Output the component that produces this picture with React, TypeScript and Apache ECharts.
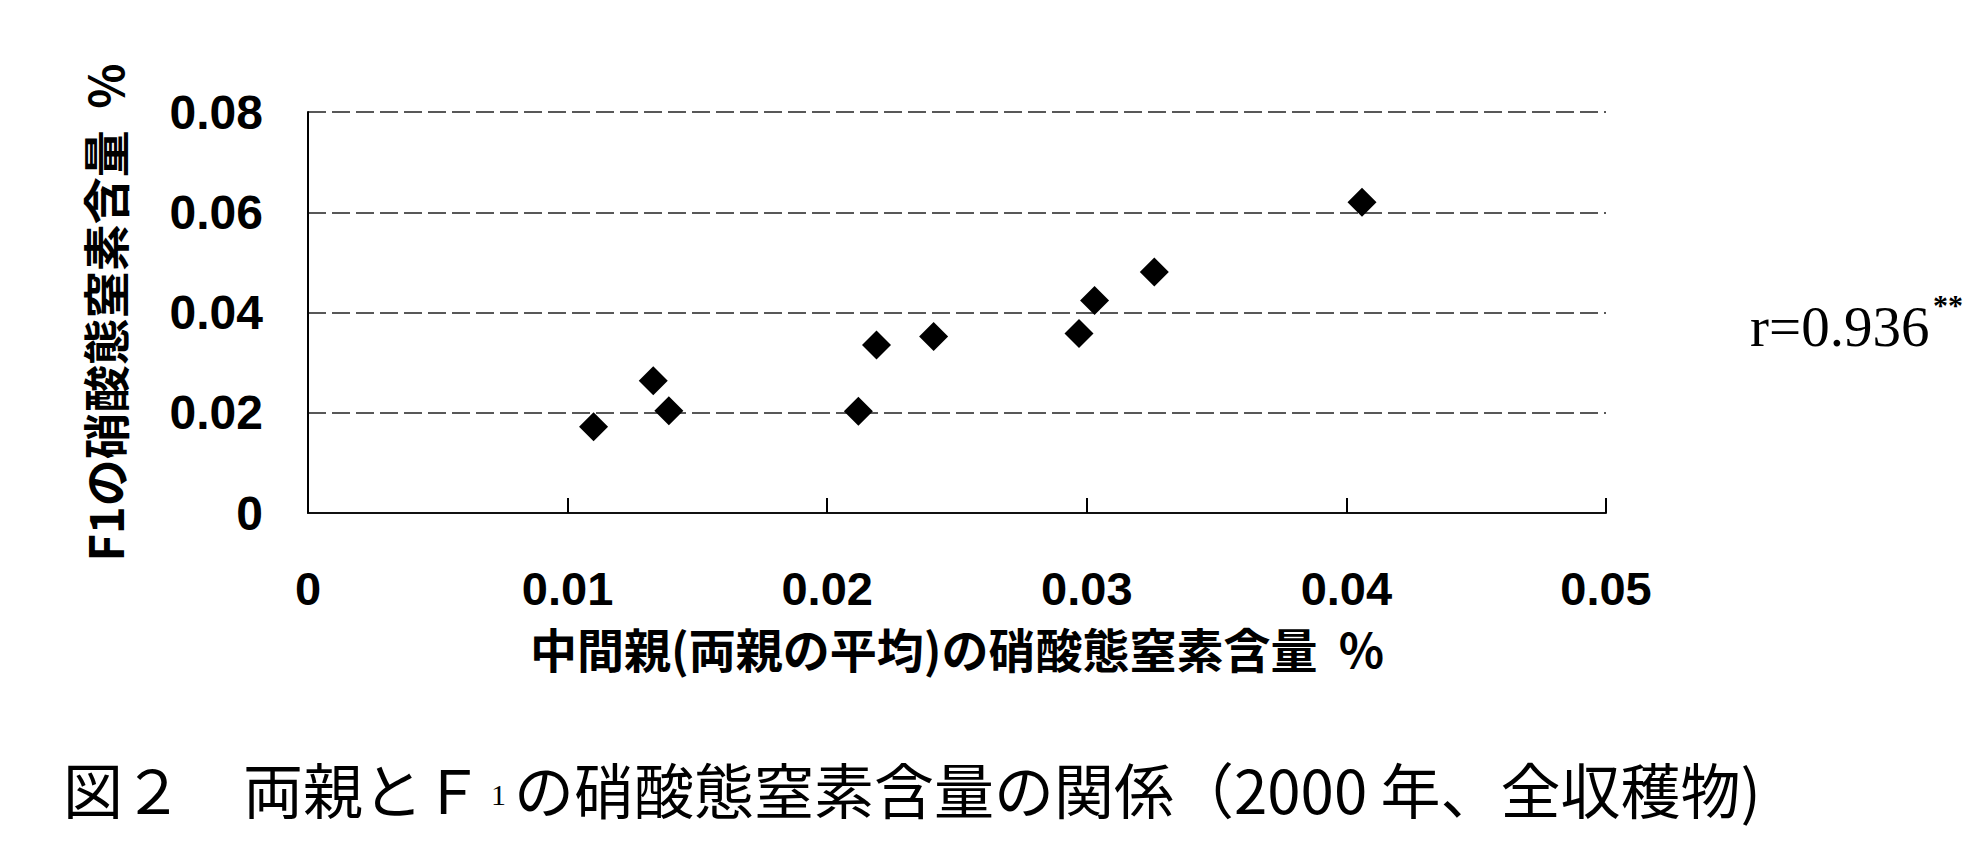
import React, { useEffect, useRef } from 'react';
import * as echarts from 'echarts';

// 中間親(両親の平均)の硝酸態窒素含量 % (x) と F1 の硝酸態窒素含量 % (y)
const midParentValues = [0.0110, 0.0133, 0.0139, 0.0212, 0.0219, 0.0241, 0.0297, 0.0303, 0.0326, 0.0406];
const f1Values = [0.0172, 0.0264, 0.0204, 0.0203, 0.0335, 0.0352, 0.0358, 0.0424, 0.0481, 0.0620];

const xTickLabels = ['0', '0.01', '0.02', '0.03', '0.04', '0.05'];
const yTickLabels = ['0', '0.02', '0.04', '0.06', '0.08'];
const xInterval = 0.01;
const yInterval = 0.02;

const xAxisTitle = '中間親(両親の平均)の硝酸態窒素含量  %';
const yAxisTitle = 'F1の硝酸態窒素含量  %';
const captionHead = '図２　両親とＦ';
const captionSub = '1';
const captionTail = 'の硝酸態窒素含量の関係（2000 年、全収穫物)';
const rText = 'r=0.936';
const rSup = '**';

const JP = '"Noto Sans CJK JP", "Noto Sans", sans-serif';
const NUM = '"Liberation Sans", Arial, sans-serif';
const SERIF = '"Liberation Serif", "Times New Roman", serif';

export default function App() {
  const ref = useRef<HTMLDivElement>(null);

  useEffect(() => {
    document.body.style.margin = '0';
    const chart = echarts.init(ref.current!, null, { renderer: 'svg' });
    const points = midParentValues.map((x, i) => [x, f1Values[i]]);

    chart.setOption({
      animation: false,
      backgroundColor: '#ffffff',
      grid: { left: 308, top: 112, width: 1298, height: 401, containLabel: false },
      xAxis: {
        type: 'value',
        min: 0,
        max: (xTickLabels.length - 1) * xInterval,
        interval: xInterval,
        name: xAxisTitle,
        nameLocation: 'middle',
        nameGap: 111,
        nameTextStyle: { fontFamily: JP, fontWeight: 'bold', fontSize: 47, color: '#000' },
        axisLine: { show: true, lineStyle: { color: '#111', width: 2 } },
        axisTick: { show: true, inside: true, length: 15, lineStyle: { color: '#000', width: 2 } },
        axisLabel: {
          show: true,
          margin: 52,
          fontFamily: NUM,
          fontWeight: 'bold',
          fontSize: 47,
          color: '#000',
          formatter: (v: number) => xTickLabels[Math.round(v / xInterval)] ?? '',
        },
        splitLine: { show: false },
      },
      yAxis: {
        type: 'value',
        min: 0,
        max: (yTickLabels.length - 1) * yInterval,
        interval: yInterval,
        name: yAxisTitle,
        nameLocation: 'middle',
        nameRotate: 90,
        nameGap: 181,
        nameTextStyle: { fontFamily: JP, fontWeight: 'bold', fontSize: 47, color: '#000' },
        axisLine: { show: true, lineStyle: { color: '#000', width: 2 } },
        axisTick: { show: false },
        axisLabel: {
          show: true,
          margin: 45,
          fontFamily: NUM,
          fontWeight: 'bold',
          fontSize: 48,
          color: '#000',
          formatter: (v: number) => yTickLabels[Math.round(v / yInterval)] ?? '',
        },
        splitLine: { show: true, lineStyle: { color: '#222', width: 1.5, type: [18, 6] } },
      },
      series: [
        {
          type: 'scatter',
          data: points,
          symbol: 'diamond',
          symbolSize: 29,
          itemStyle: { color: '#000', opacity: 1 },
        },
      ],
      graphic: [
        {
          type: 'text',
          x: 1750,
          y: 326,
          style: {
            text: rText,
            fontFamily: SERIF,
            fontSize: 57,
            fill: '#000',
            verticalAlign: 'middle',
          },
        },
        {
          type: 'text',
          x: 1933,
          y: 304,
          style: {
            text: rSup,
            fontFamily: SERIF,
            fontSize: 30,
            fontWeight: 'bold',
            fill: '#000',
            verticalAlign: 'middle',
          },
        },
        {
          type: 'text',
          x: 63,
          y: 787,
          style: {
            text: `${captionHead}{sub|${captionSub}}${captionTail}`,
            fontFamily: JP,
            fontSize: 60,
            fill: '#000',
            verticalAlign: 'middle',
            rich: {
              sub: { fontFamily: SERIF, fontSize: 30, fill: '#000', padding: [14, 8, 0, 8] },
            },
          },
        },
      ],
    });

    return () => chart.dispose();
  }, []);

  return <div ref={ref} style={{ width: 1965, height: 861 }} />;
}
